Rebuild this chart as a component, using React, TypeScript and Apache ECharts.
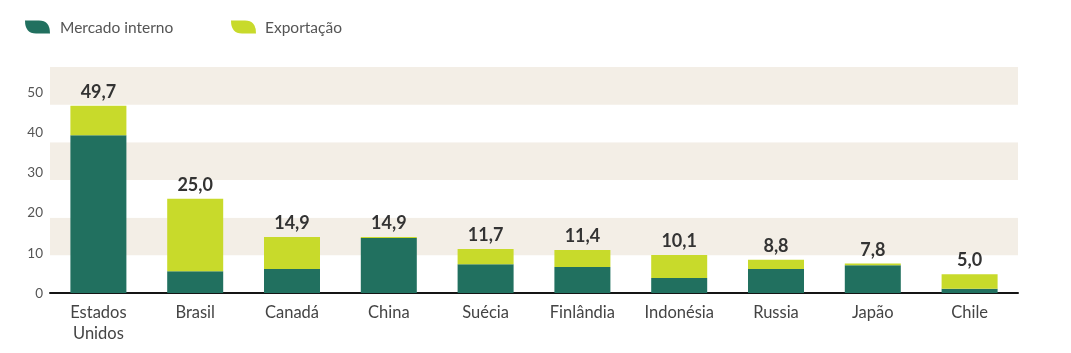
import React, { useEffect, useRef } from "react";
import * as echarts from "echarts";

const categories = ["Estados\nUnidos", "Brasil", "Canadá", "China", "Suécia", "Finlândia", "Indonésia", "Russia", "Japão", "Chile"];
const mercadoInterno = [41.9, 5.8, 6.4, 14.6, 7.6, 6.9, 4.0, 6.4, 7.4, 1.1];
const exportacao = [7.8, 19.2, 8.5, 0.3, 4.1, 4.5, 6.1, 2.4, 0.4, 3.9];
const totals = [49.7, 25.0, 14.9, 14.9, 11.7, 11.4, 10.1, 8.8, 7.8, 5.0];

const DARK = "#21705F";
const LIME = "#C8DA2B";
const BAND = "#F3EEE6";
const FONT = "Lato, 'Noto Sans', sans-serif";
const LEAF = "path://M0,0 L14,0 Q25,0 25,13 L11,13 Q0,13 0,0 Z";

export default function App() {
  const ref = useRef<HTMLDivElement>(null);
  useEffect(() => {
    if (!ref.current) return;
    const chart = echarts.init(ref.current, undefined, { renderer: "svg" });
    chart.setOption({
      animation: false,
      textStyle: { fontFamily: FONT },
      legend: [
        {
          data: ["Mercado interno"],
          left: 20,
          top: 14,
          icon: LEAF,
          itemWidth: 25,
          itemHeight: 14,
          textStyle: { color: "#555", fontSize: 15.5, fontFamily: FONT, padding: [0, 0, 0, 5] },
        },
        {
          data: ["Exportação"],
          left: 226,
          top: 14,
          icon: LEAF,
          itemWidth: 25,
          itemHeight: 14,
          textStyle: { color: "#555", fontSize: 15.5, fontFamily: FONT, padding: [0, 0, 0, 4] },
        },
      ],
      grid: { left: 50, right: 53, top: 67, bottom: 60, containLabel: false },
      xAxis: {
        type: "category",
        data: categories,
        axisTick: { show: false },
        axisLine: { lineStyle: { color: "#151515", width: 2 } },
        axisLabel: { color: "#444", fontSize: 16.5, margin: 8, lineHeight: 21, fontFamily: FONT },
      },
      yAxis: [
        {
          type: "value",
          min: 0,
          max: 60,
          interval: 10,
          axisLabel: { show: false },
          axisLine: { show: false },
          axisTick: { show: false },
          splitLine: { show: false },
          splitArea: { show: true, areaStyle: { color: ["#ffffff", BAND] } },
        },
        {
          type: "value",
          min: 0,
          max: 56.1,
          interval: 10,
          position: "left",
          axisLine: { show: false },
          axisTick: { show: false },
          splitLine: { show: false },
          axisLabel: {
            color: "#555",
            fontSize: 13.5,
            margin: 7,
            showMaxLabel: false,
            fontFamily: FONT,
            formatter: (v: number) => (v % 10 === 0 ? String(v) : ""),
          },
        },
      ],
      series: [
        {
          name: "Mercado interno",
          type: "bar",
          stack: "total",
          yAxisIndex: 0,
          barWidth: 56,
          itemStyle: { color: DARK },
          data: mercadoInterno,
        },
        {
          name: "Exportação",
          type: "bar",
          stack: "total",
          yAxisIndex: 0,
          barWidth: 56,
          itemStyle: { color: LIME },
          data: exportacao,
          label: {
            show: true,
            position: "top",
            distance: 6,
            color: "#333",
            fontSize: 18,
            fontWeight: "bold",
            fontFamily: FONT,
            formatter: (p: any) => totals[p.dataIndex].toFixed(1).replace(".", ","),
          },
        },
      ],
    });
    return () => chart.dispose();
  }, []);
  return <div ref={ref} style={{ position: "fixed", left: 0, top: 0, width: 1071, height: 353 }} />;
}
